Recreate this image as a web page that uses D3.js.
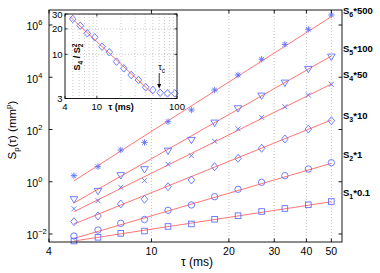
<!DOCTYPE html>
<html>
<head>
<meta charset="UTF-8">
<script src="https://cdn.jsdelivr.net/npm/d3@7"></script>
<style>
    body { margin: 0; background: #fff; }
    svg { font-family: "Liberation Sans", Arial, sans-serif; }
</style>
</head>
<body>
<div id="chart"></div>
<script>
// ---- data ----
const tau = [5, 6.2, 7.6, 9.4, 11.6, 14.3, 17.6, 21.7, 26.8, 33.0, 40.7, 50.0];

const seriesOrder = [1, 2, 3, 4, 5, 6];
const seriesFactor = ["0.1", "1", "10", "50", "100", "500"];

const s1 = [0.00539, 0.00748, 0.0106, 0.0130, 0.0194, 0.0242, 0.0366, 0.0501, 0.0726, 0.0946, 0.131, 0.175];
const s2 = [0.00838, 0.0142, 0.0257, 0.0359, 0.0807, 0.129, 0.268, 0.514, 0.953, 1.71, 3.08, 5.36];
const s3 = [0.0296, 0.0489, 0.141, 0.213, 0.647, 1.17, 3.77, 7.9, 19.1, 43.3, 104, 217];
const s4 = [0.0929, 0.188, 0.614, 1.10, 4.66, 9.93, 35.3, 106, 293, 746, 2090, 5370];
const s5 = [0.213, 0.443, 1.77, 3.0, 15.4, 39.6, 182, 648, 1970, 6180, 20700, 61200];
const s6 = [1.71, 3.77, 16.4, 32, 199, 557, 3250, 12200, 48700, 182000, 684000, 2420000];

// power-law fits, value at tau = 5 and tau = 50
const fitTau = [5, 50];
const fitStart = [0.0054, 0.00678, 0.0242, 0.0715, 0.154, 1.08];
const fitEnd = [0.172, 5.08, 231, 5520, 65000, 2090000];

const xTicks = [4, 10, 20, 30, 40, 50];
const yTickExp = [-2, 0, 2, 4, 6];

// inset: S4 / S2^2
const insetTau = [5, 6.2, 7.6, 9.4, 11.6, 14.3, 17.6, 21.7, 26.8, 33.0, 40.7, 50.0, 61.7, 76.1, 93.9];
const insetRatio = [26.2, 21.8, 17.7, 15.9, 12.3, 10.6, 8.18, 6.83, 5.69, 4.97, 4.07, 3.78, 3.51, 3.45, 3.45];
const insetFitTau = [4.6, 50];
const insetFit = [28, 3.4];
const insetXTicks = [4, 10, 100];
const insetYTicks = [3, 10, 20, 30];
const insetMinor = [5, 6, 7, 8, 9, 10, 20, 30, 40, 50, 60, 70, 80, 90];
const tauC = 61.7;

const series = [s1, s2, s3, s4, s5, s6];

// ---- drawing ----
const width = 380, height = 273;
const blue = "#5f70ff", red = "#ff6464";

const svg = d3.select("#chart").append("svg")
    .attr("width", width)
    .attr("height", height);

const m = {left: 49, right: 342, top: 10, bottom: 242};

const x = d3.scaleLog().domain([4, 55]).range([m.left, m.right]);
const y = d3.scaleLog().domain([4.94e-3, 3.75e6]).range([m.bottom, m.top]);

// vertical grid
svg.append("g").selectAll("line")
    .data(xTicks.slice(1))
    .join("line")
    .attr("x1", d => x(d)).attr("x2", d => x(d))
    .attr("y1", m.top).attr("y2", m.bottom)
    .attr("stroke", "#aaa").attr("stroke-width", 0.7)
    .attr("stroke-dasharray", "1,2");

// fit lines
svg.append("g").selectAll("line")
    .data(seriesOrder)
    .join("line")
    .attr("x1", x(fitTau[0])).attr("x2", x(fitTau[1]))
    .attr("y1", (d, i) => y(fitStart[i]))
    .attr("y2", (d, i) => y(fitEnd[i]))
    .attr("stroke", red).attr("stroke-width", 0.9);

// marker shapes, one per series
function drawMarker(g, k) {
    if (k === 0) {
        g.append("rect").attr("x", -2.8).attr("y", -2.8).attr("width", 5.6).attr("height", 5.6);
    } else if (k === 1) {
        g.append("circle").attr("r", 3.2);
    } else if (k === 2) {
        g.append("path").attr("d", "M0,-4L3.3,0L0,4L-3.3,0Z");
    } else if (k === 3) {
        g.append("path").attr("d", "M-2.5,-2.5L2.5,2.5M-2.5,2.5L2.5,-2.5");
    } else if (k === 4) {
        g.append("path").attr("d", "M-3.8,-2.6L3.8,-2.6L0,3.8Z");
    } else {
        g.append("path").attr("d", "M-3.2,0L3.2,0M0,-3.2L0,3.2M-2.3,-2.3L2.3,2.3M-2.3,2.3L2.3,-2.3");
    }
}

series.forEach((vals, k) => {
    svg.append("g")
        .attr("fill", "none").attr("stroke", blue).attr("stroke-width", 0.9)
        .selectAll("g")
        .data(vals)
        .join("g")
        .attr("transform", (d, i) => `translate(${x(tau[i])},${y(d)})`)
        .each(function () { drawMarker(d3.select(this), k); });
});

// frame
svg.append("rect")
    .attr("x", m.left).attr("y", m.top)
    .attr("width", m.right - m.left).attr("height", m.bottom - m.top)
    .attr("fill", "none").attr("stroke", "#000").attr("stroke-width", 0.9);

const ticks = svg.append("g").attr("stroke", "#000").attr("stroke-width", 0.9);
xTicks.forEach(t => {
    ticks.append("line").attr("x1", x(t)).attr("x2", x(t)).attr("y1", m.bottom).attr("y2", m.bottom - 3.5);
    ticks.append("line").attr("x1", x(t)).attr("x2", x(t)).attr("y1", m.top).attr("y2", m.top + 3.5);
});
yTickExp.forEach(e => {
    ticks.append("line").attr("x1", m.left).attr("x2", m.left + 3.5).attr("y1", y(10 ** e)).attr("y2", y(10 ** e));
    ticks.append("line").attr("x1", m.right).attr("x2", m.right - 3.5).attr("y1", y(10 ** e)).attr("y2", y(10 ** e));
});

// tick labels
svg.append("g").selectAll("text")
    .data(xTicks)
    .join("text")
    .attr("x", d => x(d)).attr("y", 255)
    .attr("text-anchor", "middle")
    .attr("font-size", 10.5)
    .text(d => d);

yTickExp.forEach(e => {
    const t = svg.append("text")
        .attr("x", 26.5).attr("y", y(10 ** e) + 5.5)
        .attr("font-size", 10.5);
    t.append("tspan").text("10");
    t.append("tspan").attr("dy", -5).attr("font-size", 7.5).text(e < 0 ? "\u2212" + (-e) : e);
});

// axis titles
svg.append("text")
    .attr("x", 197).attr("y", 266)
    .attr("text-anchor", "middle").attr("font-size", 12)
    .text("\u03c4 (ms)");

const yl = svg.append("text")
    .attr("transform", "translate(16,130) rotate(-90)")
    .attr("text-anchor", "middle").attr("font-size", 11.5);
yl.append("tspan").text("S");
yl.append("tspan").attr("dy", 3).attr("font-size", 8).text("p");
yl.append("tspan").attr("dy", -3).text("(\u03c4) (mm");
yl.append("tspan").attr("dy", -5).attr("font-size", 8).text("p");
yl.append("tspan").attr("dy", 5).text(")");

// right-hand series labels
const labelBase = [196, 158, 119, 78, 52, 14];
seriesOrder.forEach((n, i) => {
    const t = svg.append("text")
        .attr("x", 343).attr("y", labelBase[i])
        .attr("font-size", 9.5).attr("font-weight", "bold");
    t.append("tspan").text("S");
    t.append("tspan").attr("dy", 3).attr("font-size", 7).text(n);
    t.append("tspan").attr("dy", -3).text("*" + seriesFactor[i]);
});

// ---- inset ----
const im = {left: 65, right: 177, top: 14, bottom: 98.5};
const ix = d3.scaleLog().domain([4, 100]).range([im.left, im.right]);
const iy = d3.scaleLog().domain([3, 30]).range([im.bottom, im.top]);

const inset = svg.append("g");
inset.append("rect")
    .attr("x", im.left).attr("y", im.top)
    .attr("width", im.right - im.left).attr("height", im.bottom - im.top)
    .attr("fill", "#fff");

inset.append("g").selectAll("line")
    .data(insetMinor)
    .join("line")
    .attr("x1", d => ix(d)).attr("x2", d => ix(d))
    .attr("y1", im.top).attr("y2", im.bottom)
    .attr("stroke", "#aaa").attr("stroke-width", 0.6)
    .attr("stroke-dasharray", "1,2");
inset.append("g").selectAll("line")
    .data([10, 20])
    .join("line")
    .attr("x1", im.left).attr("x2", im.right)
    .attr("y1", d => iy(d)).attr("y2", d => iy(d))
    .attr("stroke", "#aaa").attr("stroke-width", 0.6)
    .attr("stroke-dasharray", "1,2");

inset.append("line")
    .attr("x1", ix(insetFitTau[0])).attr("x2", ix(insetFitTau[1]))
    .attr("y1", iy(insetFit[0])).attr("y2", iy(insetFit[1]))
    .attr("stroke", red).attr("stroke-width", 0.9);

inset.append("g")
    .attr("fill", "none").attr("stroke", blue).attr("stroke-width", 0.9)
    .selectAll("path")
    .data(insetRatio)
    .join("path")
    .attr("transform", (d, i) => `translate(${ix(insetTau[i])},${iy(d)})`)
    .attr("d", "M0,-3.8L3.3,0L0,3.8L-3.3,0Z");

inset.append("rect")
    .attr("x", im.left).attr("y", im.top)
    .attr("width", im.right - im.left).attr("height", im.bottom - im.top)
    .attr("fill", "none").attr("stroke", "#000").attr("stroke-width", 0.9);

const iticks = inset.append("g").attr("stroke", "#000").attr("stroke-width", 0.8);
insetXTicks.forEach(t => {
    iticks.append("line").attr("x1", ix(t)).attr("x2", ix(t)).attr("y1", im.bottom).attr("y2", im.bottom - 2.5);
    iticks.append("line").attr("x1", ix(t)).attr("x2", ix(t)).attr("y1", im.top).attr("y2", im.top + 2.5);
});
insetYTicks.forEach(t => {
    iticks.append("line").attr("x1", im.left).attr("x2", im.left + 2.5).attr("y1", iy(t)).attr("y2", iy(t));
    iticks.append("line").attr("x1", im.right).attr("x2", im.right - 2.5).attr("y1", iy(t)).attr("y2", iy(t));
});

inset.append("g").selectAll("text")
    .data(insetXTicks)
    .join("text")
    .attr("x", d => ix(d)).attr("y", 109.5)
    .attr("text-anchor", "middle").attr("font-size", 9.5)
    .text(d => d);
inset.append("g").selectAll("text")
    .data(insetYTicks)
    .join("text")
    .attr("x", im.left - 2.5).attr("y", d => iy(d) + 3.5)
    .attr("text-anchor", "end").attr("font-size", 9.5)
    .text(d => d);

inset.append("text")
    .attr("x", 121).attr("y", 109.5)
    .attr("text-anchor", "middle").attr("font-size", 9).attr("font-weight", "bold")
    .text("\u03c4 (ms)");

const il = inset.append("text")
    .attr("transform", "translate(80,57) rotate(-90)")
    .attr("text-anchor", "middle").attr("font-size", 9).attr("font-weight", "bold");
il.append("tspan").text("S");
il.append("tspan").attr("dy", 2.5).attr("font-size", 6.5).text("4");
il.append("tspan").attr("dy", -2.5).text(" / S");
il.append("tspan").attr("dy", 2.5).attr("font-size", 6.5).text("2");
il.append("tspan").attr("dx", -3.6).attr("dy", -6).attr("font-size", 6.5).text("2");

// tau_c marker
const tc = inset.append("text")
    .attr("x", ix(tauC) - 2).attr("y", 70)
    .attr("font-size", 9);
tc.append("tspan").text("\u03c4");
tc.append("tspan").attr("dy", 2.5).attr("font-size", 6.5).text("c");

inset.append("line")
    .attr("x1", ix(tauC) - 1).attr("x2", ix(tauC) - 1)
    .attr("y1", 73).attr("y2", 85)
    .attr("stroke", "#000").attr("stroke-width", 0.8);
inset.append("path")
    .attr("d", `M${ix(tauC) - 3},84L${ix(tauC) + 1},84L${ix(tauC) - 1},88.5Z`)
    .attr("fill", "#000");
</script>
</body>
</html>
